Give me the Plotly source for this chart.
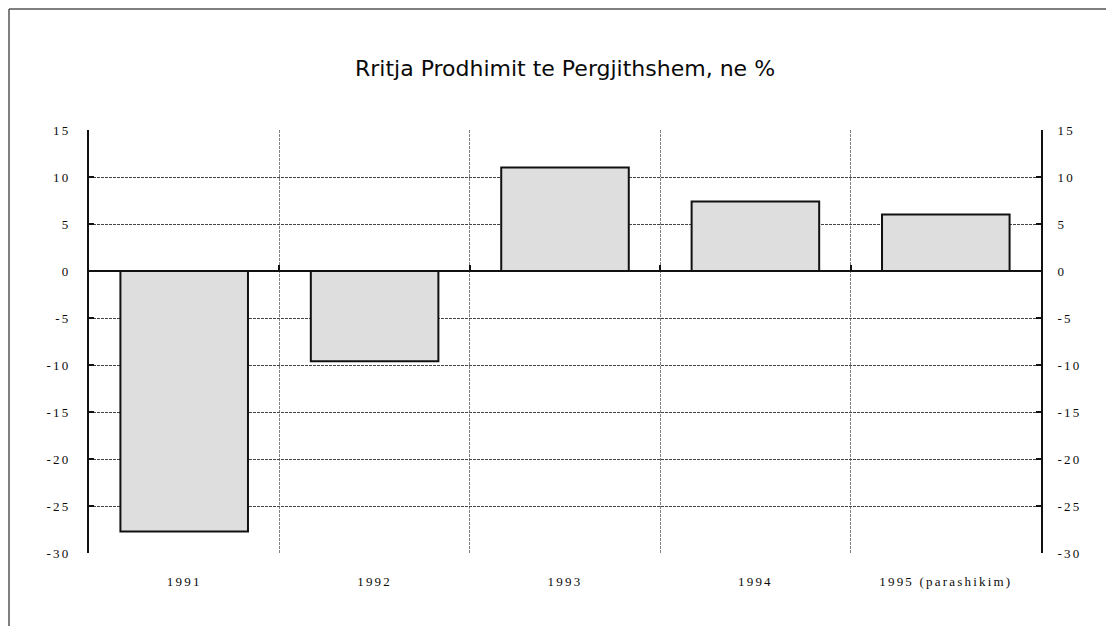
import plotly.graph_objects as go

# Rritja e prodhimit te pergjithshem (%)
years = ["1991", "1992", "1993", "1994", "1995 (parashikim)"]
growth = [-27.7, -9.6, 11.0, 7.4, 6.0]
y_ticks = [15, 10, 5, 0, -5, -10, -15, -20, -25, -30]

spaced = lambda s: '<span style="letter-spacing:2.2px">' + s + "</span>"
y_ticktext = [spaced(str(v)) for v in y_ticks]
x_ticktext = [spaced(y) for y in years]

grid_dash = "3px,1px"
W, H = 1106, 618  # page body keeps an 8px margin

fig = go.Figure()

fig.add_trace(go.Bar(
    x=years, y=growth,
    marker=dict(color="#dedede", line=dict(color="#111111", width=2)),
    hoverinfo="x+y",
))

# invisible copy so the right axis and the zero axis get drawn
fig.add_trace(go.Scatter(
    x=years, y=growth, xaxis="x2", yaxis="y2",
    mode="markers", marker=dict(opacity=0), hoverinfo="skip", showlegend=False,
))

fig.update_layout(
    width=W, height=H,
    margin=dict(l=81, r=73, t=122, b=73),
    plot_bgcolor="white", paper_bgcolor="white",
    showlegend=False,
    bargap=0.33,
    title=dict(
        text="Rritja Prodhimit te Pergjithshem, ne %",
        x=0.5, xref="paper", xanchor="center",
        y=1 - 60 / H, yref="container", yanchor="middle",
        font=dict(family="DejaVu Sans", size=22, color="#0a0a0a"),
    ),
    font=dict(family="Liberation Serif", size=13, color="#0a0a0a"),
    xaxis=dict(
        type="category", tickson="boundaries",
        tickvals=years, ticktext=x_ticktext,
        showgrid=True, gridcolor="#808080", griddash=grid_dash, gridwidth=1,
        ticks="", showline=False, zeroline=False,
        ticklabelstandoff=19,
    ),
    xaxis2=dict(
        type="category", tickson="boundaries", overlaying="x",
        anchor="free", position=2 / 3, side="bottom",
        showgrid=False, showticklabels=False,
        ticks="inside", ticklen=5, tickwidth=2, tickcolor="#111111",
        showline=True, linecolor="#111111", linewidth=1.5,
        matches="x",
    ),
    yaxis=dict(
        range=[-30, 15], tickvals=y_ticks, ticktext=y_ticktext,
        showgrid=True, gridcolor="#444444", griddash=grid_dash, gridwidth=1,
        zeroline=False,
        showline=True, linecolor="#111111", linewidth=2,
        ticks="inside", ticklen=5, tickwidth=2, tickcolor="#111111",
        ticklabelstandoff=14,
    ),
    yaxis2=dict(
        range=[-30, 15], tickvals=y_ticks, ticktext=y_ticktext,
        overlaying="y", side="right", matches="y",
        showgrid=False, zeroline=False,
        showline=True, linecolor="#111111", linewidth=2,
        ticks="inside", ticklen=5, tickwidth=2, tickcolor="#111111",
        ticklabelstandoff=12,
    ),
    shapes=[
        dict(type="line", xref="paper", yref="paper",
             x0=(1 - 81) / 952, x1=(W - 81) / 952,
             y0=(545 - 1) / 423, y1=(545 - 1) / 423,
             line=dict(color="#555555", width=1.5)),
        dict(type="line", xref="paper", yref="paper",
             x0=(1 - 81) / 952, x1=(1 - 81) / 952,
             y0=(545 - 1) / 423, y1=(545 - H) / 423,
             line=dict(color="#555555", width=1.5)),
    ],
)

fig.write_html("out.html")
